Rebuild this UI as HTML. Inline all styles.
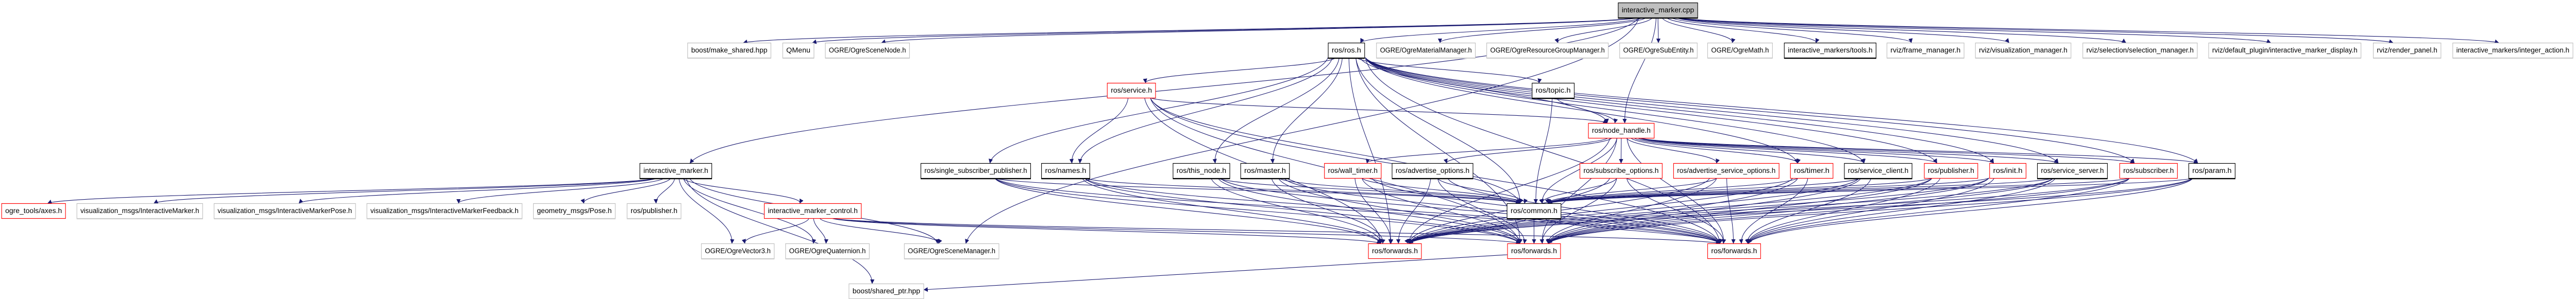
<!DOCTYPE html>
<html><head><meta charset="utf-8"><style>
html,body{margin:0;padding:0;background:#fff;width:100%;height:100%;overflow:hidden}
svg{display:block;position:fixed;left:0;top:0;width:100vw;height:100vh}
text{font-family:"Liberation Sans",sans-serif;font-size:14px;fill:#000}
</style></head><body>
<svg id="g" viewBox="0 0 5445 581" preserveAspectRatio="none" xmlns="http://www.w3.org/2000/svg">
<defs><marker id="a" viewBox="0 0 10 10" refX="9" refY="5" markerWidth="9" markerHeight="9" orient="auto" markerUnits="userSpaceOnUse"><path d="M0,0 L10,5 L0,10 z" fill="#191970"/></marker></defs>
<g id="e" fill="none" stroke="#191970" stroke-width="1.1"></g>
<g id="n"></g>
</svg>
<script>
var R=[5,83,161,239,317,395,473,551],H=29;
var N={
cpp:["interactive_marker.cpp",3420,3589,0,"f"],
mk:["boost/make_shared.hpp",1453,1630,1,"g"],
qm:["QMenu",1654,1721,1,"g"],
sn:["OGRE/OgreSceneNode.h",1744,1923,1,"g"],
ros:["ros/ros.h",2807,2885,1,"k"],
mm:["OGRE/OgreMaterialManager.h",2909,3119,1,"g"],
rg:["OGRE/OgreResourceGroupManager.h",3142,3400,1,"g"],
se:["OGRE/OgreSubEntity.h",3423,3588,1,"g"],
om:["OGRE/OgreMath.h",3609,3747,1,"g"],
tl:["interactive_markers/tools.h",3771,3966,1,"k"],
fm:["rviz/frame_manager.h",3988,4152,1,"g"],
vm:["rviz/visualization_manager.h",4175,4378,1,"g"],
sm:["rviz/selection/selection_manager.h",4402,4645,1,"g"],
dd:["rviz/default_plugin/interactive_marker_display.h",4668,4991,1,"g"],
rp:["rviz/render_panel.h",5016,5160,1,"g"],
ia:["interactive_markers/integer_action.h",5184,5439,1,"g"],
sv:["ros/service.h",2340,2443,2,"r"],
tp:["ros/topic.h",3238,3328,2,"k"],
nh:["ros/node_handle.h",3357,3497,3,"r"],
im:["interactive_marker.h",1352,1505,4,"k"],
ssp:["ros/single_subscriber_publisher.h",1946,2179,4,"k"],
nm:["ros/names.h",2201,2304,4,"k"],
tn:["ros/this_node.h",2479,2600,4,"k"],
ms:["ros/master.h",2622,2726,4,"k"],
wt:["ros/wall_timer.h",2799,2920,4,"r"],
ao:["ros/advertise_options.h",2942,3114,4,"k"],
so:["ros/subscribe_options.h",3339,3514,4,"r"],
aso:["ros/advertise_service_options.h",3537,3761,4,"r"],
ti:["ros/timer.h",3784,3875,4,"r"],
sc:["ros/service_client.h",3898,4042,4,"k"],
pb:["ros/publisher.h",4067,4181,4,"r"],
it:["ros/init.h",4205,4283,4,"r"],
ss:["ros/service_server.h",4306,4455,4,"k"],
sb:["ros/subscriber.h",4480,4603,4,"r"],
pr:["ros/param.h",4626,4725,4,"k"],
ax:["ogre_tools/axes.h",3,139,5,"r"],
vi:["visualization_msgs/InteractiveMarker.h",162,429,5,"g"],
vp:["visualization_msgs/InteractiveMarkerPose.h",452,752,5,"g"],
vf:["visualization_msgs/InteractiveMarkerFeedback.h",775,1104,5,"g"],
gp:["geometry_msgs/Pose.h",1127,1301,5,"g"],
rpb:["ros/publisher.h",1325,1440,5,"g"],
imc:["interactive_marker_control.h",1615,1821,5,"r"],
cm:["ros/common.h",3185,3300,5,"k"],
v3:["OGRE/OgreVector3.h",1482,1637,6,"g"],
oq:["OGRE/OgreQuaternion.h",1660,1838,6,"g"],
osm:["OGRE/OgreSceneManager.h",1911,2112,6,"g"],
f1:["ros/forwards.h",2892,3005,6,"r"],
f2:["ros/forwards.h",3186,3299,6,"r"],
f3:["ros/forwards.h",3609,3722,6,"r"],
sp:["boost/shared_ptr.hpp",1794,1953,7,"g"]
};
var E=[];
function add(s,l){l.split(" ").forEach(function(t){E.push([s,t]);});}
add("cpp","mk qm sn ros mm rg se om tl fm vm sm dd rp ia im osm nh");
add("im","ax vi vp vf gp rpb imc v3 oq osm sp");
add("imc","v3 oq osm f1 f2 f3");
add("ros","sv tp nh ssp nm tn ms cm ti sc pb it ss sb pr f1 f2 f3");
add("sv","nh nm cm f1 f2 f3");
add("tp","nh cm");
add("nh","wt ao so aso ti sc pb it ss sb pr cm f1 f2 f3");
["ssp","nm","tn","ms","wt","ao","so","aso","ti","sc","pb","it","ss","sb","pr"].forEach(function(s){add(s,"cm f1 f2 f3");});
add("cm","f1 f2 f3");
add("f2","sp");
var ns="http://www.w3.org/2000/svg",eg=document.getElementById("e"),ng=document.getElementById("n");
function cx(id){var n=N[id];return (n[1]+n[2])/2;}
E.forEach(function(p){
 var s=N[p[0]],t=N[p[1]],d;
 var sx=cx(p[0]),tx=cx(p[1]);
 if(p[0]=="f2"&&p[1]=="sp"){
  d="M"+N.f2[1]+","+(R[6]+22)+" L"+N.sp[2]+","+(R[7]+12);
 } else {
  var y1=R[s[3]]+H,y2=R[t[3]];
  var off=(sx-tx)*0.2;
  sx=sx+Math.max(-40,Math.min(40,(tx-sx)*0.05));
  var dy=y2-y1;
  var ex=tx+Math.max(-30,Math.min(30,(sx-tx)*0.1));
  d="M"+sx+","+y1+" C"+(sx-off*0.2)+","+(y1+dy*0.4)+" "+(tx+off*0.3)+","+(y2-dy*0.4)+" "+ex+","+y2;
 }
 var e=document.createElementNS(ns,"path");e.setAttribute("d",d);e.setAttribute("marker-end","url(#a)");eg.appendChild(e);
});
for(var k in N){var n=N[k],x=n[1],w=n[2]-n[1],y=R[n[3]];
 var r=document.createElementNS(ns,"rect");r.setAttribute("x",x+0.5);r.setAttribute("y",y+0.5);r.setAttribute("width",w-1);r.setAttribute("height",H);
 var st={k:"#000",r:"#ff0000",g:"#bfbfbf",f:"#000"}[n[4]];
 r.setAttribute("fill",n[4]=="f"?"#bfbfbf":"#fff");r.setAttribute("stroke",st);r.setAttribute("stroke-width",1.2);ng.appendChild(r);
 if(n[4]!="r"){var b=document.createElementNS(ns,"line");b.setAttribute("x1",x);b.setAttribute("x2",x+w);b.setAttribute("y1",y+H+1.5);b.setAttribute("y2",y+H+1.5);b.setAttribute("stroke",n[4]=="g"?"#d8d8d8":"#000");b.setAttribute("stroke-width",1.5);ng.appendChild(b);}
 var t=document.createElementNS(ns,"text");t.setAttribute("x",x+w/2);t.setAttribute("y",y+19);t.setAttribute("text-anchor","middle");t.setAttribute("textLength",w-16);t.setAttribute("lengthAdjust","spacingAndGlyphs");t.textContent=n[0];ng.appendChild(t);}
</script>
</body></html>
